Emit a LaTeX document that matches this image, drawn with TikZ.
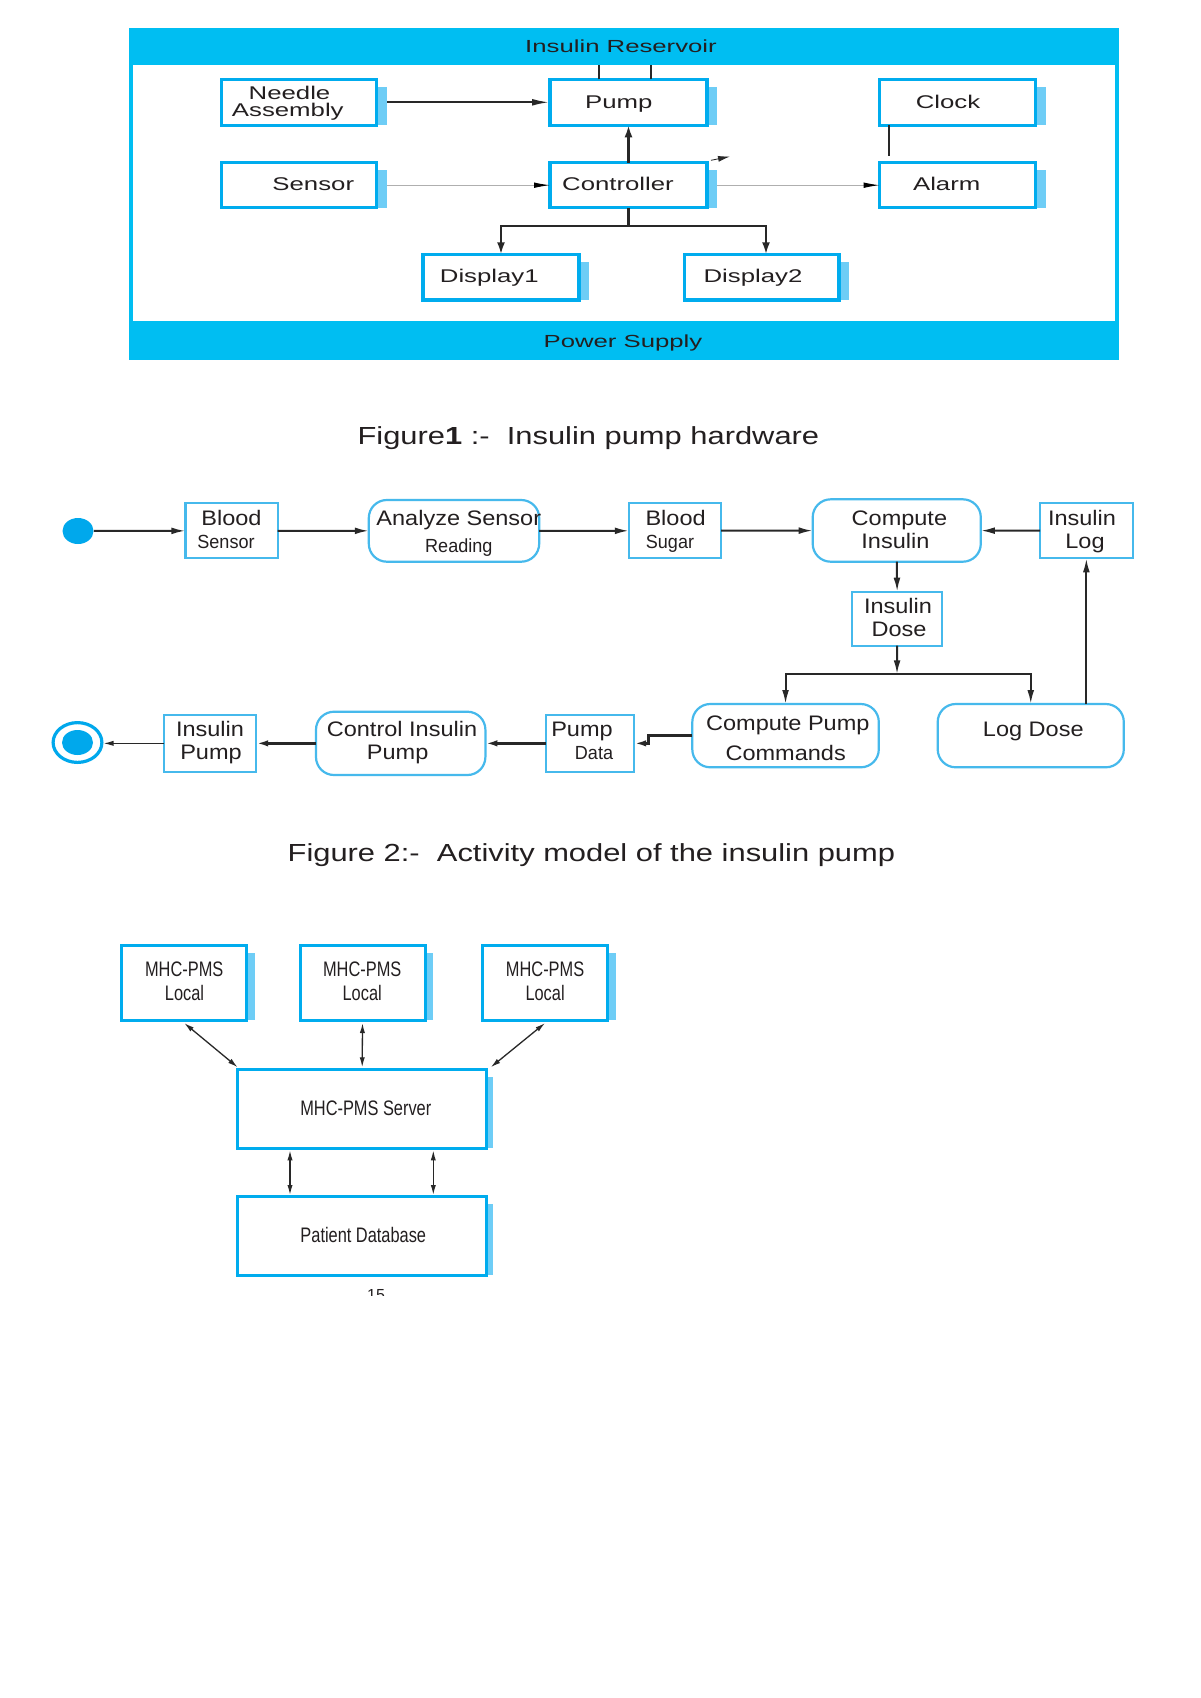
\documentclass[tikz,border=0pt]{standalone}
\usepackage{fontspec}
\setmainfont{Liberation Sans}
\newfontfamily\fHw[FakeStretch=1.4]{Liberation Sans}
\newfontfamily\fBand[FakeStretch=1.47]{Liberation Sans}
\newfontfamily\fCap[FakeStretch=1.25]{Liberation Sans}
\newfontfamily\fAct[FakeStretch=1.12]{Liberation Sans}
\newfontfamily\fActN[FakeStretch=0.95]{Liberation Sans}
\newfontfamily\fNet[FakeStretch=0.78]{Liberation Sans}
\usetikzlibrary{arrows.meta,shapes.geometric}
\definecolor{bandc}{RGB}{0,190,242}
\definecolor{cyanB}{RGB}{0,172,238}
\definecolor{cyanL}{RGB}{70,185,236}
\definecolor{shadowc}{RGB}{110,205,246}
\definecolor{dotc}{RGB}{0,168,236}
\definecolor{txtc}{RGB}{35,31,32}
\definecolor{linec}{RGB}{40,40,40}
\definecolor{grayl}{RGB}{175,175,175}
\newcommand\mkbox[7]{%
  \fill[shadowc] (#5,#4+7.5) rectangle (#5+#7,#6);
  \node[#1, minimum width={(#5-#3)*0.5pt}, minimum height={(#6-#4)*0.5pt}] (#2) at ({(#3+#5)/2},{(#4+#6)/2}) {};
}
\newcommand\mkplain[6]{%
  \node[#1, minimum width={(#5-#3)*0.5pt}, minimum height={(#6-#4)*0.5pt}] (#2) at ({(#3+#5)/2},{(#4+#6)/2}) {};
}
\begin{document}
\begin{tikzpicture}[x=0.5pt,y=-0.5pt,
  txt/.style={inner sep=0, outer sep=0, anchor=base, text=txtc},
  hwF/.style={txt, font=\fHw\fontsize{9.2}{11}\selectfont},
  bandF/.style={txt, font=\fBand\fontsize{8.75}{10}\selectfont},
  capF/.style={txt, font=\fCap\fontsize{12.35}{14}\selectfont},
  actF/.style={txt, font=\fAct\fontsize{10.5}{12}\selectfont},
  actN/.style={txt, font=\fActN\fontsize{9.5}{11}\selectfont},
  netF/.style={txt, font=\fNet\fontsize{10.5}{12}\selectfont},
  hwb/.style={draw=cyanB, line width=1.6pt, fill=white, inner sep=0, outer sep=0},
  actb/.style={draw=cyanL, line width=1.1pt, fill=white, inner sep=0, outer sep=0},
  actr/.style={actb, rounded corners=9pt},
  netb/.style={draw=cyanB, line width=1.5pt, fill=white, inner sep=0, outer sep=0},
  bandb/.style={fill=bandc, inner sep=0, outer sep=0},
  l1/.style={draw=linec, line width=1.1pt},
  a1/.style={draw=linec, line width=1.1pt, -{Latex[length=9pt,width=3.4pt]}},
  a1g/.style={draw=grayl, line width=0.5pt, -{Latex[length=8pt,width=2.8pt,color=black]}},
  a1v/.style={draw=linec, line width=1.1pt, -{Latex[length=6pt,width=4pt]}},
  a1s/.style={draw=linec, line width=0.4pt, -{Latex[length=6pt,width=3pt]}},
  a2/.style={draw=linec, line width=1pt, -{Latex[length=7pt,width=3.4pt]}},
  a2t/.style={draw=linec, line width=1.5pt, -{Latex[length=6pt,width=3.2pt]}},
  a2n/.style={draw=linec, line width=0.6pt, -{Latex[length=5pt,width=2.6pt]}},
  a3/.style={draw=linec, line width=0.65pt, {Latex[length=5pt,width=2.6pt]}-{Latex[length=5pt,width=2.6pt]}}
]
\useasboundingbox (0,0) rectangle (1200,1698);
\fill[white] (0,0) rectangle (1200,1698);

%%%%%%%%%%%%%%%% Figure 1
\node[draw=bandc, line width=2pt, fill=white, inner sep=0, outer sep=0,
  minimum width={(1117-130.5)*0.5pt}, minimum height={(358-29.5)*0.5pt}] (frame) at ({(130.5+1117)/2},{(29.5+358)/2}) {};
\mkplain{bandb}{res}{128.5}{27.5}{1119}{65}
\mkplain{bandb}{pow}{128.5}{321}{1119}{360}
\node[bandF] (tres) at (621,52.5) {Insulin Reservoir};
\node[bandF] (tpow) at (623,347) {Power Supply};

\mkbox{hwb}{needle}{221.7}{79.3}{376.7}{125.3}{10.5}
\mkbox{hwb}{pump}{550}{79.3}{707}{125.3}{10}
\mkbox{hwb}{clock}{879.6}{79.3}{1035.8}{125.3}{10}
\mkbox{hwb}{sensor}{221.7}{162.7}{376.7}{207.7}{10.5}
\mkbox{hwb}{ctrl}{550}{162.7}{707}{207.7}{10}
\mkbox{hwb}{alarm}{879.6}{162.7}{1035.8}{207.7}{10}
\mkbox{hwb}{disp1}{423}{254.3}{579}{300}{10}
\mkbox{hwb}{disp2}{684.6}{254.3}{839}{300}{10}

\node[hwF] (tneedle) at (289.5,99.3) {Needle};
\node[hwF] (tassem) at (287.8,116.7) {Assembly};
\node[hwF] (tsensor) at (313.3,190.7) {Sensor};
\node[hwF] (tpump) at (618.8,108.3) {Pump};
\node[hwF] (tctrl) at (618,190.7) {Controller};
\node[hwF] (tclock) at (948,108.3) {Clock};
\node[hwF] (talarm) at (946.7,190.7) {Alarm};
\node[hwF] (td1) at (489.3,282.7) {Display1};
\node[hwF] (td2) at (753,282.7) {Display2};

\draw[l1, line width=0.8pt] ([xshift=-14.75pt]pump.north) -- ([xshift=-14.75pt]pump.north |- res.south);
\draw[l1, line width=0.8pt] ([xshift=11.25pt]pump.north) -- ([xshift=11.25pt]pump.north |- res.south);
\draw[a1] ([xshift=5.3pt]needle.east) -- (pump.west);
\draw[a1g] ([xshift=5.3pt]sensor.east) -- (ctrl.west);
\draw[a1v] (ctrl.north) -- (pump.south);
\draw[a1g] ([xshift=5pt]ctrl.east) -- (alarm.west);
\coordinate (clk) at (889,156);
\draw[l1] (clock.south -| clk) -- (clk);
\coordinate (stray) at (730,156.5);
\draw[a1s] ([xshift=2pt,yshift=1.2pt]ctrl.north east) -- (stray);
\coordinate (j1) at (628.5,225.7);
\draw[l1] (ctrl.south) -- (j1);
\draw[a1v] (j1) -| (disp1.north);
\draw[a1v] (j1) -| ([xshift=2.1pt]disp2.north);

\node[capF] (cap1) at (588.4,444.3) {Figure{\bfseries 1} :-\ \ Insulin pump hardware};

%%%%%%%%%%%%%%%% Figure 2
\node[ellipse, fill=dotc, inner sep=0, minimum width=15.5pt, minimum height=13pt] (init) at (78,531) {};
\mkplain{actb}{bs}{185.4}{503.3}{277.7}{558.3}
\mkplain{actr}{asr}{368.8}{500}{539.2}{561.7}
\mkplain{actb}{bsug}{628.8}{503.3}{721.2}{558.3}
\mkplain{actr}{ci}{812.7}{499.3}{980.8}{561.7}
\mkplain{actb}{ilog}{1040}{503.3}{1132.7}{558.3}
\mkplain{actb}{idose}{852}{591.7}{942.3}{645.7}
\mkplain{actr}{cpc}{692.3}{704}{878.8}{767.3}
\mkplain{actr}{ldose}{937.7}{704}{1123.8}{767.3}
\mkplain{actb}{pdata}{545.8}{715}{634.2}{771.7}
\mkplain{actr}{cip}{316}{711.7}{485.4}{775}
\mkplain{actb}{ipump}{164.2}{715}{256.2}{771.7}
\node[ellipse, draw=dotc, line width=1.6pt, fill=white, inner sep=0, minimum width=24.4pt, minimum height=19.9pt] (fin) at (77.5,742.5) {};
\node[ellipse, fill=dotc, inner sep=0, minimum width=15.5pt, minimum height=12.5pt] (find) at (fin.center) {};

\node[actF] (tbs1) at (231.5,525.7) {Blood};
\node[actN] (tbs2) at (226,548.3) {Sensor};
\node[actF] (tasr1) at (458.8,525.7) {Analyze Sensor};
\node[actN] (tasr2) at (458.8,552.7) {Reading};
\node[actF] (tbsug1) at (675.6,525.7) {Blood};
\node[actN] (tbsug2) at (670,548.3) {Sugar};
\node[actF] (tci1) at (899.4,525.7) {Compute};
\node[actF] (tci2) at (895.4,548.3) {Insulin};
\node[actF] (tilog1) at (1082,525.7) {Insulin};
\node[actF] (tilog2) at (1085,548.3) {Log};
\node[actF] (tidose1) at (898,613.3) {Insulin};
\node[actF] (tidose2) at (899,636.7) {Dose};
\node[actF] (tcpc1) at (787.8,730.7) {Compute Pump};
\node[actF] (tcpc2) at (785.7,760) {Commands};
\node[actF] (tldose) at (1033.3,736.7) {Log Dose};
\node[actF] (tpd1) at (582,736.7) {Pump};
\node[actN] (tpd2) at (594,759.3) {Data};
\node[actF] (tcip1) at (402,736.7) {Control Insulin};
\node[actF] (tcip2) at (397.7,759.3) {Pump};
\node[actF] (tip1) at (210,736.7) {Insulin};
\node[actF] (tip2) at (211,759.3) {Pump};

\draw[a2] (init) -- (bs);
\draw[a2] (bs) -- (asr);
\draw[a2] (asr) -- (bsug);
\draw[a2] (bsug) -- (ci);
\draw[a2] (ilog) -- (ci);
\draw[a2] (ci.south) -- (idose.north);
\coordinate (fork) at (897,674.3);
\draw[a2] (idose.south) -- (fork);
\draw[a2] (fork) -| (cpc.north);
\draw[a2] (fork) -| (ldose.north);
\draw[a2] (ldose.north -| ilog.south) -- (ilog.south);
\draw[a2t] (cpc.west) -- ++(-44,0) |- (pdata.east);
\draw[a2t] (pdata) -- (cip);
\draw[a2t] (cip) -- (ipump);
\draw[a2n] (ipump.west) -- (ipump.west -| fin.east);

\node[capF] (cap2) at (591.4,861.7) {Figure 2:-\ \ Activity model of the insulin pump};

%%%%%%%%%%%%%%%% Figure 3
\mkbox{netb}{l1}{121.7}{945}{246.7}{1020}{8.5}
\mkbox{netb}{l2}{300}{945}{425}{1020}{8}
\mkbox{netb}{l3}{482.3}{945}{607.9}{1020}{8}
\mkbox{netb}{srv}{237.7}{1069.3}{486.7}{1148.3}{6}
\mkbox{netb}{db}{237.7}{1196}{486.7}{1275}{6.5}

\node[netF] (tl1a) at (184.2,976.7) {MHC-PMS};
\node[netF] (tl1b) at (184.5,1000.7) {Local};
\node[netF] (tl2a) at (362.2,976.7) {MHC-PMS};
\node[netF] (tl2b) at (362.2,1000.7) {Local};
\node[netF] (tl3a) at (545.1,976.7) {MHC-PMS};
\node[netF] (tl3b) at (545.1,1000.7) {Local};
\node[netF] (tsrv) at (365.8,1115) {MHC-PMS Server};
\node[netF] (tdb) at (363.3,1242.7) {Patient Database};

\draw[a3] ([yshift=-1.5pt]l1.south) -- ([yshift=1pt]srv.north west);
\draw[a3] ([yshift=-1.5pt]l2.south) -- ([yshift=1pt]srv.north);
\draw[a3] ([yshift=-1.5pt]l3.south) -- ([xshift=2pt,yshift=1pt]srv.north east);
\draw[a3] ([xshift=26.15pt,yshift=-1pt]srv.south west) -- ([xshift=26.15pt,yshift=0.5pt]db.north west);
\draw[a3] ([xshift=-26.7pt,yshift=-1pt]srv.south east) -- ([xshift=-26.7pt,yshift=0.5pt]db.north east);

\begin{scope}
\clip (300,1280) rectangle (450,1295.5);
\node[txt, font=\fontsize{8}{9.6}\selectfont] (pg) at (376,1300.5) {15};
\end{scope}
\end{tikzpicture}
\end{document}
